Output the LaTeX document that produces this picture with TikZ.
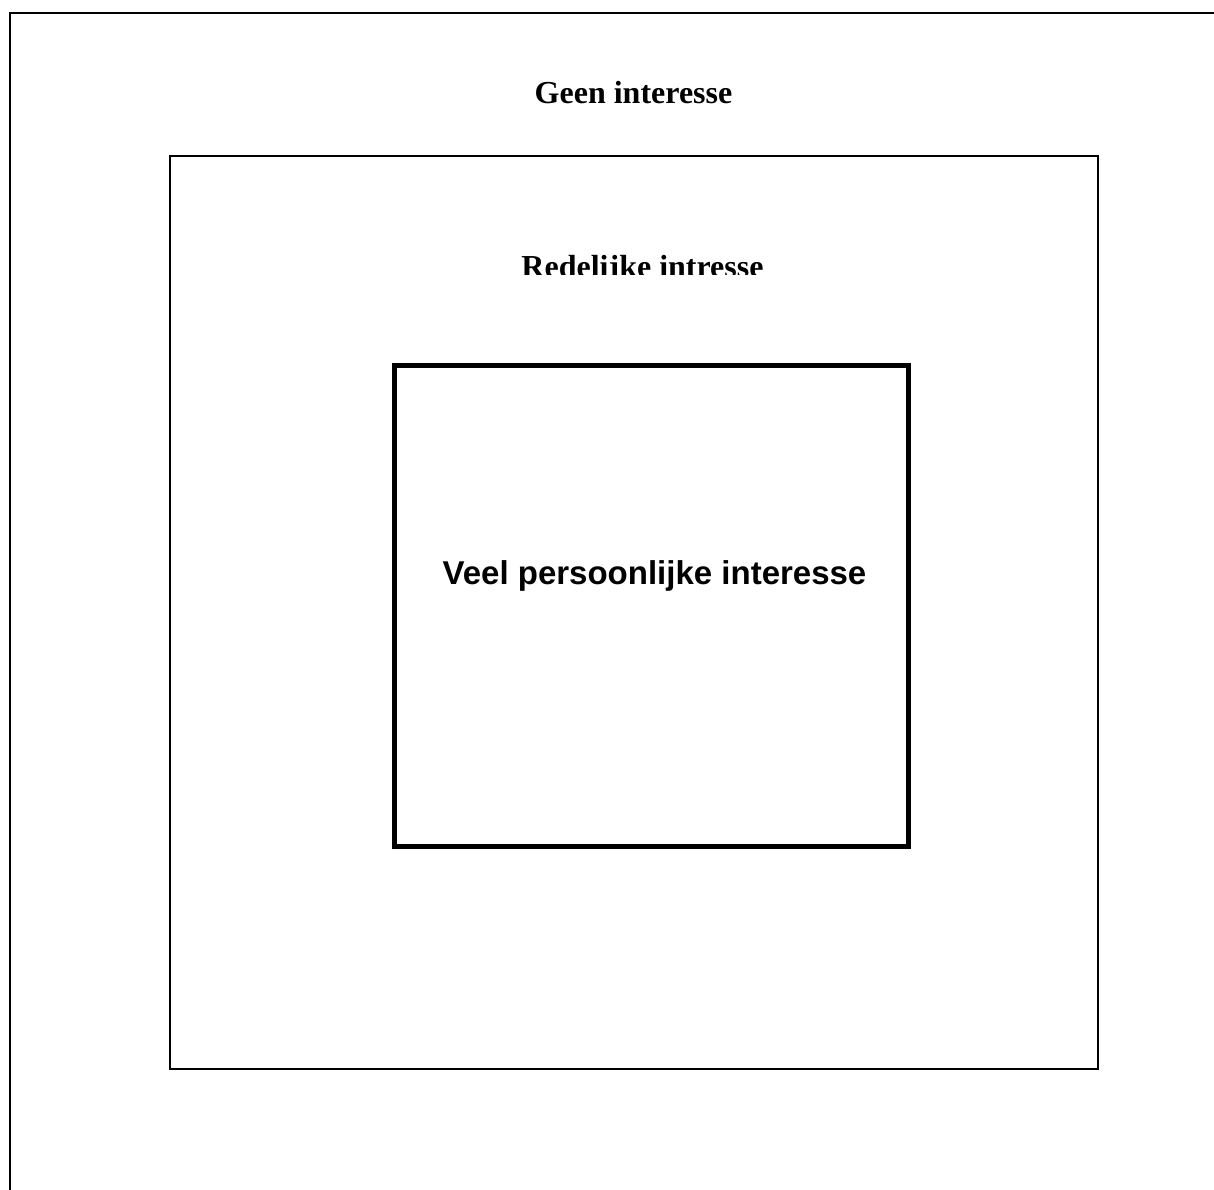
\documentclass[tikz,border=0pt]{standalone}
\usepackage{fontspec}
\setmainfont{Liberation Serif}
\newfontfamily\arialf{Liberation Sans}
\begin{document}
\begin{tikzpicture}[x=1pt,y=-1pt,
  box/.style={draw=black, fill=none, inner sep=0pt, outer sep=0pt},
  serifbold/.style={font=\fontsize{32}{38}\selectfont\bfseries, inner sep=0pt, anchor=base},
  sansbold/.style={font=\arialf\fontsize{33}{38}\selectfont\bfseries, inner sep=0pt, anchor=base}]
\useasboundingbox (0,0) rectangle (1214,1189);
\fill[white] (0,0) rectangle (1214,1189);
\clip (0,0) rectangle (1214,1189);
% outer box (cut off at right and bottom)
\node[box, line width=2pt, minimum width=1240pt, minimum height=1220pt, anchor=north west] (outer) at (10,13) {};
% middle box
\node[box, line width=2pt, minimum width=928pt, minimum height=913pt, anchor=north west] (middle) at (170,156) {};
% inner box
\node[box, line width=5pt, minimum width=514pt, minimum height=481pt, anchor=north west] (inner) at (394,365) {};
% labels
\node[serifbold] (geen) at (633.5,103.5) {Geen interesse};
\begin{scope}
\clip (0,0) rectangle (1214,274);
\node[serifbold] (redelijk) at (642.5,277) {Redelijke intresse};
\end{scope}
\node[sansbold] (veel) at (654.5,584.5) {Veel persoonlijke interesse};
\end{tikzpicture}
\end{document}
